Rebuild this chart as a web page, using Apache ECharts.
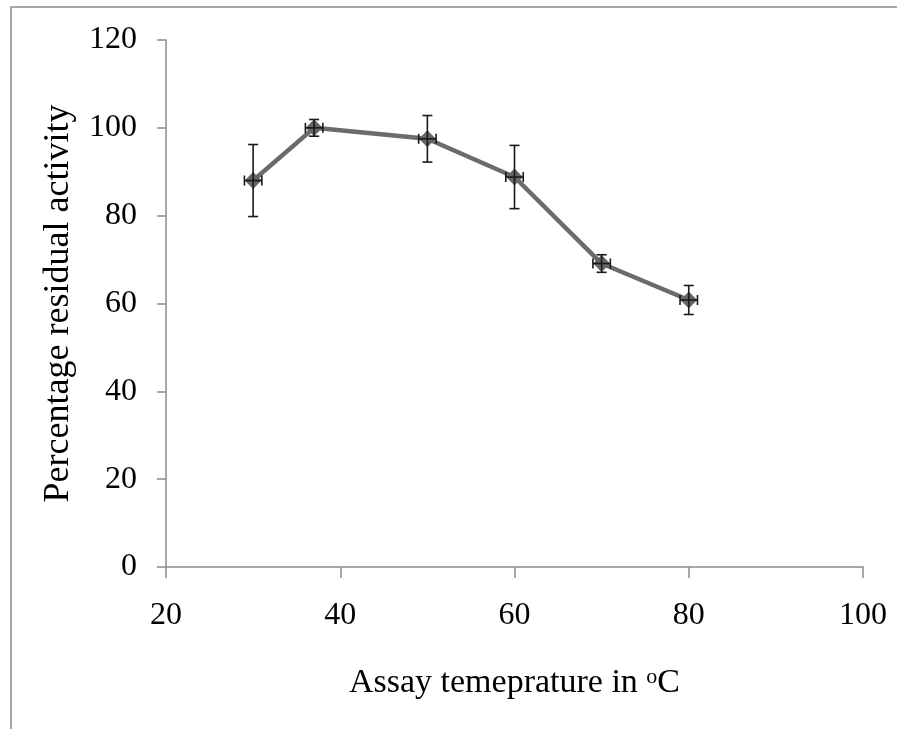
<!DOCTYPE html>
<html>
<head>
<meta charset="utf-8">
<script src="https://cdn.jsdelivr.net/npm/echarts@6/dist/echarts.min.js"></script>
<style>
  html, body { margin: 0; padding: 0; background: #ffffff; }
  #chart { width: 897px; height: 729px; }
</style>
</head>
<body>
<div id="chart"></div>
<script>
// Assay temperature (°C) and percentage residual activity with error bars
const temperatures = [30, 37, 50, 60, 70, 80];
const activity = [88.0, 100.0, 97.5, 88.8, 69.1, 60.8];
const activityErr = [8.2, 1.9, 5.3, 7.2, 2.0, 3.3];
const temperatureErr = [1, 1, 1, 1, 1, 1];

const xTicks = [20, 40, 60, 80, 100];
const yTicks = [0, 20, 40, 60, 80, 100, 120];

const serif = '"Liberation Serif", "Times New Roman", serif';
const axisGray = '#8c8c8c';

const linePoints = temperatures.map((t, i) => [t, activity[i]]);
const errorPoints = temperatures.map((t, i) => [t, activity[i], activityErr[i], temperatureErr[i]]);

function renderErrorBar(params, api) {
  const x = api.value(0), y = api.value(1), ey = api.value(2), ex = api.value(3);
  const top = api.coord([x, y + ey]);
  const bottom = api.coord([x, y - ey]);
  const left = api.coord([x - ex, y]);
  const right = api.coord([x + ex, y]);
  const capW = 5, capH = 5;
  const style = { stroke: '#1a1a1a', lineWidth: 1.6, fill: null };
  const seg = (x1, y1, x2, y2) => ({ type: 'line', shape: { x1, y1, x2, y2 }, style });
  return {
    type: 'group',
    children: [
      seg(top[0], top[1], bottom[0], bottom[1]),
      seg(top[0] - capW, top[1], top[0] + capW, top[1]),
      seg(bottom[0] - capW, bottom[1], bottom[0] + capW, bottom[1]),
      seg(left[0], left[1], right[0], right[1]),
      seg(left[0], left[1] - capH, left[0], left[1] + capH),
      seg(right[0], right[1] - capH, right[0], right[1] + capH)
    ]
  };
}

const chart = echarts.init(document.getElementById('chart'), null, { renderer: 'canvas' });
chart.setOption({
  animation: false,
  backgroundColor: '#ffffff',
  graphic: [{
    type: 'rect',
    shape: { x: 11, y: 7, width: 920, height: 760 },
    style: { fill: null, stroke: '#a6a6a6', lineWidth: 2 },
    silent: true,
    z: -10
  }],
  grid: { left: 166, right: 34, top: 40, bottom: 162, containLabel: false },
  xAxis: {
    type: 'value',
    min: xTicks[0],
    max: xTicks[xTicks.length - 1],
    interval: xTicks[1] - xTicks[0],
    splitLine: { show: false },
    axisLine: { lineStyle: { color: axisGray, width: 1.5 } },
    axisTick: { show: true, length: 11, lineStyle: { color: axisGray, width: 1.5 } },
    axisLabel: { color: '#000', fontFamily: serif, fontSize: 32, margin: 33 },
    name: 'Assay temeprature in {sup|o}C',
    nameLocation: 'middle',
    nameGap: 99,
    nameTextStyle: {
      color: '#000', fontFamily: serif, fontSize: 34,
      rich: {
        sup: { fontFamily: serif, fontSize: 22, color: '#000', verticalAlign: 'top', padding: [0, 0, 10, 0] }
      }
    }
  },
  yAxis: {
    type: 'value',
    min: yTicks[0],
    max: yTicks[yTicks.length - 1],
    interval: yTicks[1] - yTicks[0],
    splitLine: { show: false },
    axisLine: { show: true, lineStyle: { color: axisGray, width: 1.5 } },
    axisTick: { show: true, length: 9, lineStyle: { color: axisGray, width: 1.5 } },
    axisLabel: { color: '#000', fontFamily: serif, fontSize: 32, margin: 29 },
    name: 'Percentage residual activity',
    nameLocation: 'middle',
    nameGap: 89,
    nameRotate: 90,
    nameTextStyle: { color: '#000', fontFamily: serif, fontSize: 36 }
  },
  series: [
    {
      type: 'line',
      data: linePoints,
      symbol: 'diamond',
      symbolSize: 17,
      lineStyle: { color: '#6b6b6b', width: 4.5 },
      itemStyle: { color: '#666666' },
      z: 2
    },
    {
      type: 'custom',
      data: errorPoints,
      renderItem: renderErrorBar,
      z: 3
    }
  ]
});
</script>
</body>
</html>
